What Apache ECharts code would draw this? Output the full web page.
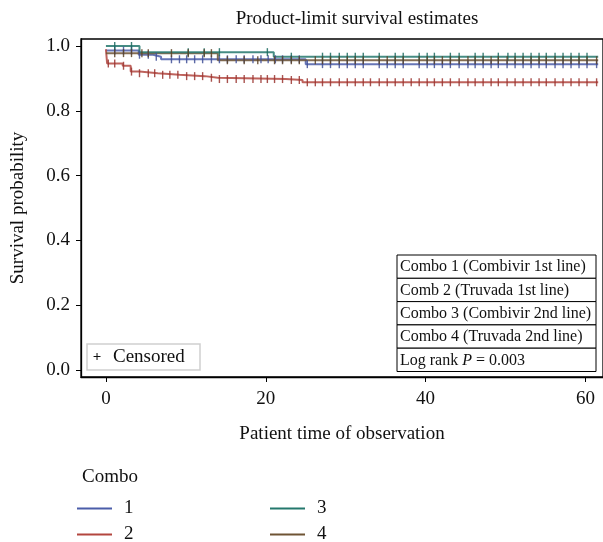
<!DOCTYPE html>
<html><head><meta charset="utf-8">
<script src="https://cdn.jsdelivr.net/npm/echarts@6/dist/echarts.min.js"></script>
<style>html,body{margin:0;padding:0;background:#fff}#c{width:603px;height:542px}</style>
</head><body><div id="c"></div>
<script>
// ---- data ----
const seriesNames = ['1', '2', '3', '4'];
const tableLabels = ['Combo 1 (Combivir 1st line)', 'Comb 2 (Truvada 1st line)', 'Combo 3 (Combivir 2nd line)', 'Combo 4 (Truvada 2nd line)'];
const xTicks = [0, 20, 40, 60];
const yTicks = [0, 0.2, 0.4, 0.6, 0.8, 1.0];

// step function points [time, survival] (value holds until next time)
const combo1Steps = [[0, 0.986], [4.1, 0.973], [5.9, 0.967], [6.9, 0.959], [25.0, 0.944], [61.6, 0.944]];
const combo2Steps = [[0, 0.99], [0.15, 0.946], [2.1, 0.939], [3.1, 0.921], [4.2, 0.916], [6.5, 0.911], [9.2, 0.907], [12.4, 0.902], [14.0, 0.898], [22.5, 0.895], [24.6, 0.888], [61.6, 0.888]];
const combo3Steps = [[0, 1.0], [4.2, 0.981], [21.0, 0.967], [61.6, 0.967]];
const combo4Steps = [[0, 0.978], [14.0, 0.956], [61.6, 0.956]];

// censoring times
const combo1Censor = [1.1, 2.2, 3.2, 4.2, 5.3, 6.3, 8.2, 9.2, 10.1, 11.1, 12.1, 13.2, 14.2, 15.2, 16.3, 17.3, 18.4, 19.4, 20.3, 21.2, 22.1, 23.2, 24.2, 25.2, 27.1, 28.1, 29.2, 30.2, 31.2, 32.2, 34.2, 35.2, 36.2, 37.2, 39.2, 40.2, 41.1, 42.1, 43.1, 44.2, 45.3, 46.2, 47.2, 48.2, 49.1, 50.2, 51.2, 52.2, 53.2, 54.2, 55.1, 56.2, 57.2, 58.2, 59.2, 60.2, 61.4];
const combo2Censor = [0.3, 1.1, 2.2, 3.2, 4.2, 5.3, 6.1, 7.1, 8.0, 9.0, 10.1, 11.1, 12.1, 13.2, 14.2, 15.2, 16.3, 17.3, 18.4, 19.4, 20.2, 21.1, 22.1, 23.2, 24.2, 25.2, 26.2, 27.1, 28.1, 29.2, 30.2, 31.2, 32.2, 33.1, 34.2, 35.2, 36.2, 37.2, 38.2, 39.2, 40.2, 41.1, 42.1, 43.1, 44.2, 45.3, 46.2, 47.2, 48.2, 49.1, 50.2, 51.2, 52.2, 53.2, 54.2, 55.1, 56.2, 57.2, 58.2, 59.2, 60.2, 61.4];
const combo3Censor = [1.1, 3.2, 10.3, 12.3, 14.2, 20.2, 23.2, 27.1, 28.1, 29.2, 30.2, 31.2, 32.2, 34.2, 36.2, 37.2, 39.2, 40.2, 41.1, 43.1, 44.2, 46.2, 47.2, 49.1, 50.3, 51.2, 52.2, 53.2, 54.2, 55.1, 56.2, 57.2, 58.2, 59.2, 60.2];
const combo4Censor = [1.1, 2.2, 3.2, 4.5, 5.3, 8.2, 10.3, 12.3, 13.2, 15.2, 17.3, 19.0, 21.1, 22.1, 23.2, 24.2, 26.2, 27.1, 28.1, 29.2, 30.2, 31.2, 32.2, 34.2, 35.2, 36.2, 37.2, 39.2, 40.2, 41.1, 42.1, 43.1, 44.2, 45.3, 46.2, 47.2, 48.2, 49.1, 50.2, 51.2, 52.2, 53.2, 54.2, 55.1, 56.2, 57.2, 58.2, 59.2, 60.2, 61.4];

// ---- styling ----
const lineColors = ['#4b5da9', '#b3463f', '#24786d', '#6f5434'];
const markColors = ['#3f4f96', '#9a3530', '#1b6a5f', '#5c4326'];
const FONT = '"Liberation Serif", "DejaVu Serif", serif';

const stepsList = [combo1Steps, combo2Steps, combo3Steps, combo4Steps];
const censorList = [combo1Censor, combo2Censor, combo3Censor, combo4Censor];

function survivalAt(steps, t) {
  let v = steps[0][1];
  for (const s of steps) { if (s[0] <= t) v = s[1]; }
  return v;
}

const series = [];
seriesNames.forEach((n, i) => {
  series.push({
    name: n, type: 'line', step: 'end', data: stepsList[i],
    symbol: 'none', showSymbol: false, z: 3 + (i === 2 ? 1 : 0),
    lineStyle: { color: lineColors[i], width: 2, opacity: 0.85 },
    itemStyle: { color: lineColors[i] }, animation: false
  });
});
seriesNames.forEach((n, i) => {
  series.push({
    name: 'c' + n, type: 'scatter',
    data: censorList[i].map(t => [t, survivalAt(stepsList[i], t)]),
    symbol: 'rect', symbolSize: [1.4, 8], z: 5,
    itemStyle: { color: markColors[i], opacity: 0.85 }, animation: false, silent: true
  });
});

const rowTop = 255, rowH = 23.3, boxX = 397, boxW = 199;
const graphics = [];
graphics.push({ type: 'text', x: 357, y: 19, style: { text: 'Product-limit survival estimates', font: '19px ' + FONT, fill: '#111', align: 'center', verticalAlign: 'middle' } });
const rows = tableLabels.concat(['Log rank {i|P} = 0.003']);
rows.forEach((t, k) => {
  graphics.push({ type: 'rect', shape: { x: boxX, y: rowTop + k * rowH, width: boxW, height: rowH }, style: { fill: '#fff', stroke: '#000', lineWidth: 1 }, z: 10 });
  graphics.push({ type: 'text', x: boxX + 3, y: rowTop + k * rowH + rowH / 2 + 0.5, z: 11,
    style: { text: t, font: '16px ' + FONT, fill: '#111', verticalAlign: 'middle',
      rich: { i: { fontStyle: 'italic', fontSize: 16, fontFamily: FONT, fill: '#111' } } } });
});
graphics.push({ type: 'rect', shape: { x: 87, y: 344, width: 113, height: 26 }, style: { fill: '#fff', stroke: '#cfcfcf', lineWidth: 1.5 }, z: 10 });
graphics.push({ type: 'text', x: 97, y: 357, z: 11, style: { text: '+', font: 'bold 15px ' + FONT, fill: '#111', align: 'center', verticalAlign: 'middle' } });
graphics.push({ type: 'text', x: 113, y: 357.5, z: 11, style: { text: 'Censored', font: '19px ' + FONT, fill: '#111', verticalAlign: 'middle' } });
graphics.push({ type: 'text', x: 82, y: 477, style: { text: 'Combo', font: '19px ' + FONT, fill: '#111', verticalAlign: 'middle' } });

const legendCommon = {
  orient: 'vertical', icon: 'rect', itemWidth: 35, itemHeight: 2, itemGap: 7, padding: 0,
  width: 120, height: 80,
  textStyle: { fontFamily: FONT, fontSize: 19, color: '#111', padding: [0, 0, 0, 7] },
  selectedMode: false
};

const chart = echarts.init(document.getElementById('c'), null, { renderer: 'canvas' });
chart.setOption({
  animation: false,
  backgroundColor: '#fff',
  grid: { left: 81, top: 39, right: -2, bottom: 165, show: true, borderColor: '#000', borderWidth: 1.3 },
  xAxis: {
    type: 'value', min: -3.12, max: 62.2,
    name: 'Patient time of observation', nameLocation: 'middle', nameGap: 48,
    nameTextStyle: { fontFamily: FONT, fontSize: 19, color: '#111' },
    axisLine: { show: true, onZero: false, lineStyle: { color: '#000', width: 1.3 } },
    axisTick: { show: true, length: 5, lineStyle: { color: '#000' }, customValues: xTicks },
    axisLabel: { customValues: xTicks, margin: 13, fontFamily: FONT, fontSize: 19, color: '#111' },
    splitLine: { show: false }
  },
  yAxis: {
    type: 'value', min: -0.0216, max: 1.0216,
    name: 'Survival probability', nameLocation: 'middle', nameGap: 53, nameRotate: 90,
    nameTextStyle: { fontFamily: FONT, fontSize: 19, color: '#111' },
    axisLine: { show: true, onZero: false, lineStyle: { color: '#000', width: 1.3 } },
    axisTick: { show: true, length: 5, lineStyle: { color: '#000' }, customValues: yTicks },
    axisLabel: { customValues: yTicks, margin: 11, fontFamily: FONT, fontSize: 19, color: '#111', formatter: v => v.toFixed(1) },
    splitLine: { show: false }
  },
  legend: [
    Object.assign({ data: ['1', '2'], left: 77, top: 499 }, legendCommon),
    Object.assign({ data: ['3', '4'], left: 270, top: 499 }, legendCommon)
  ],
  series: series,
  graphic: graphics
});
</script></body></html>
